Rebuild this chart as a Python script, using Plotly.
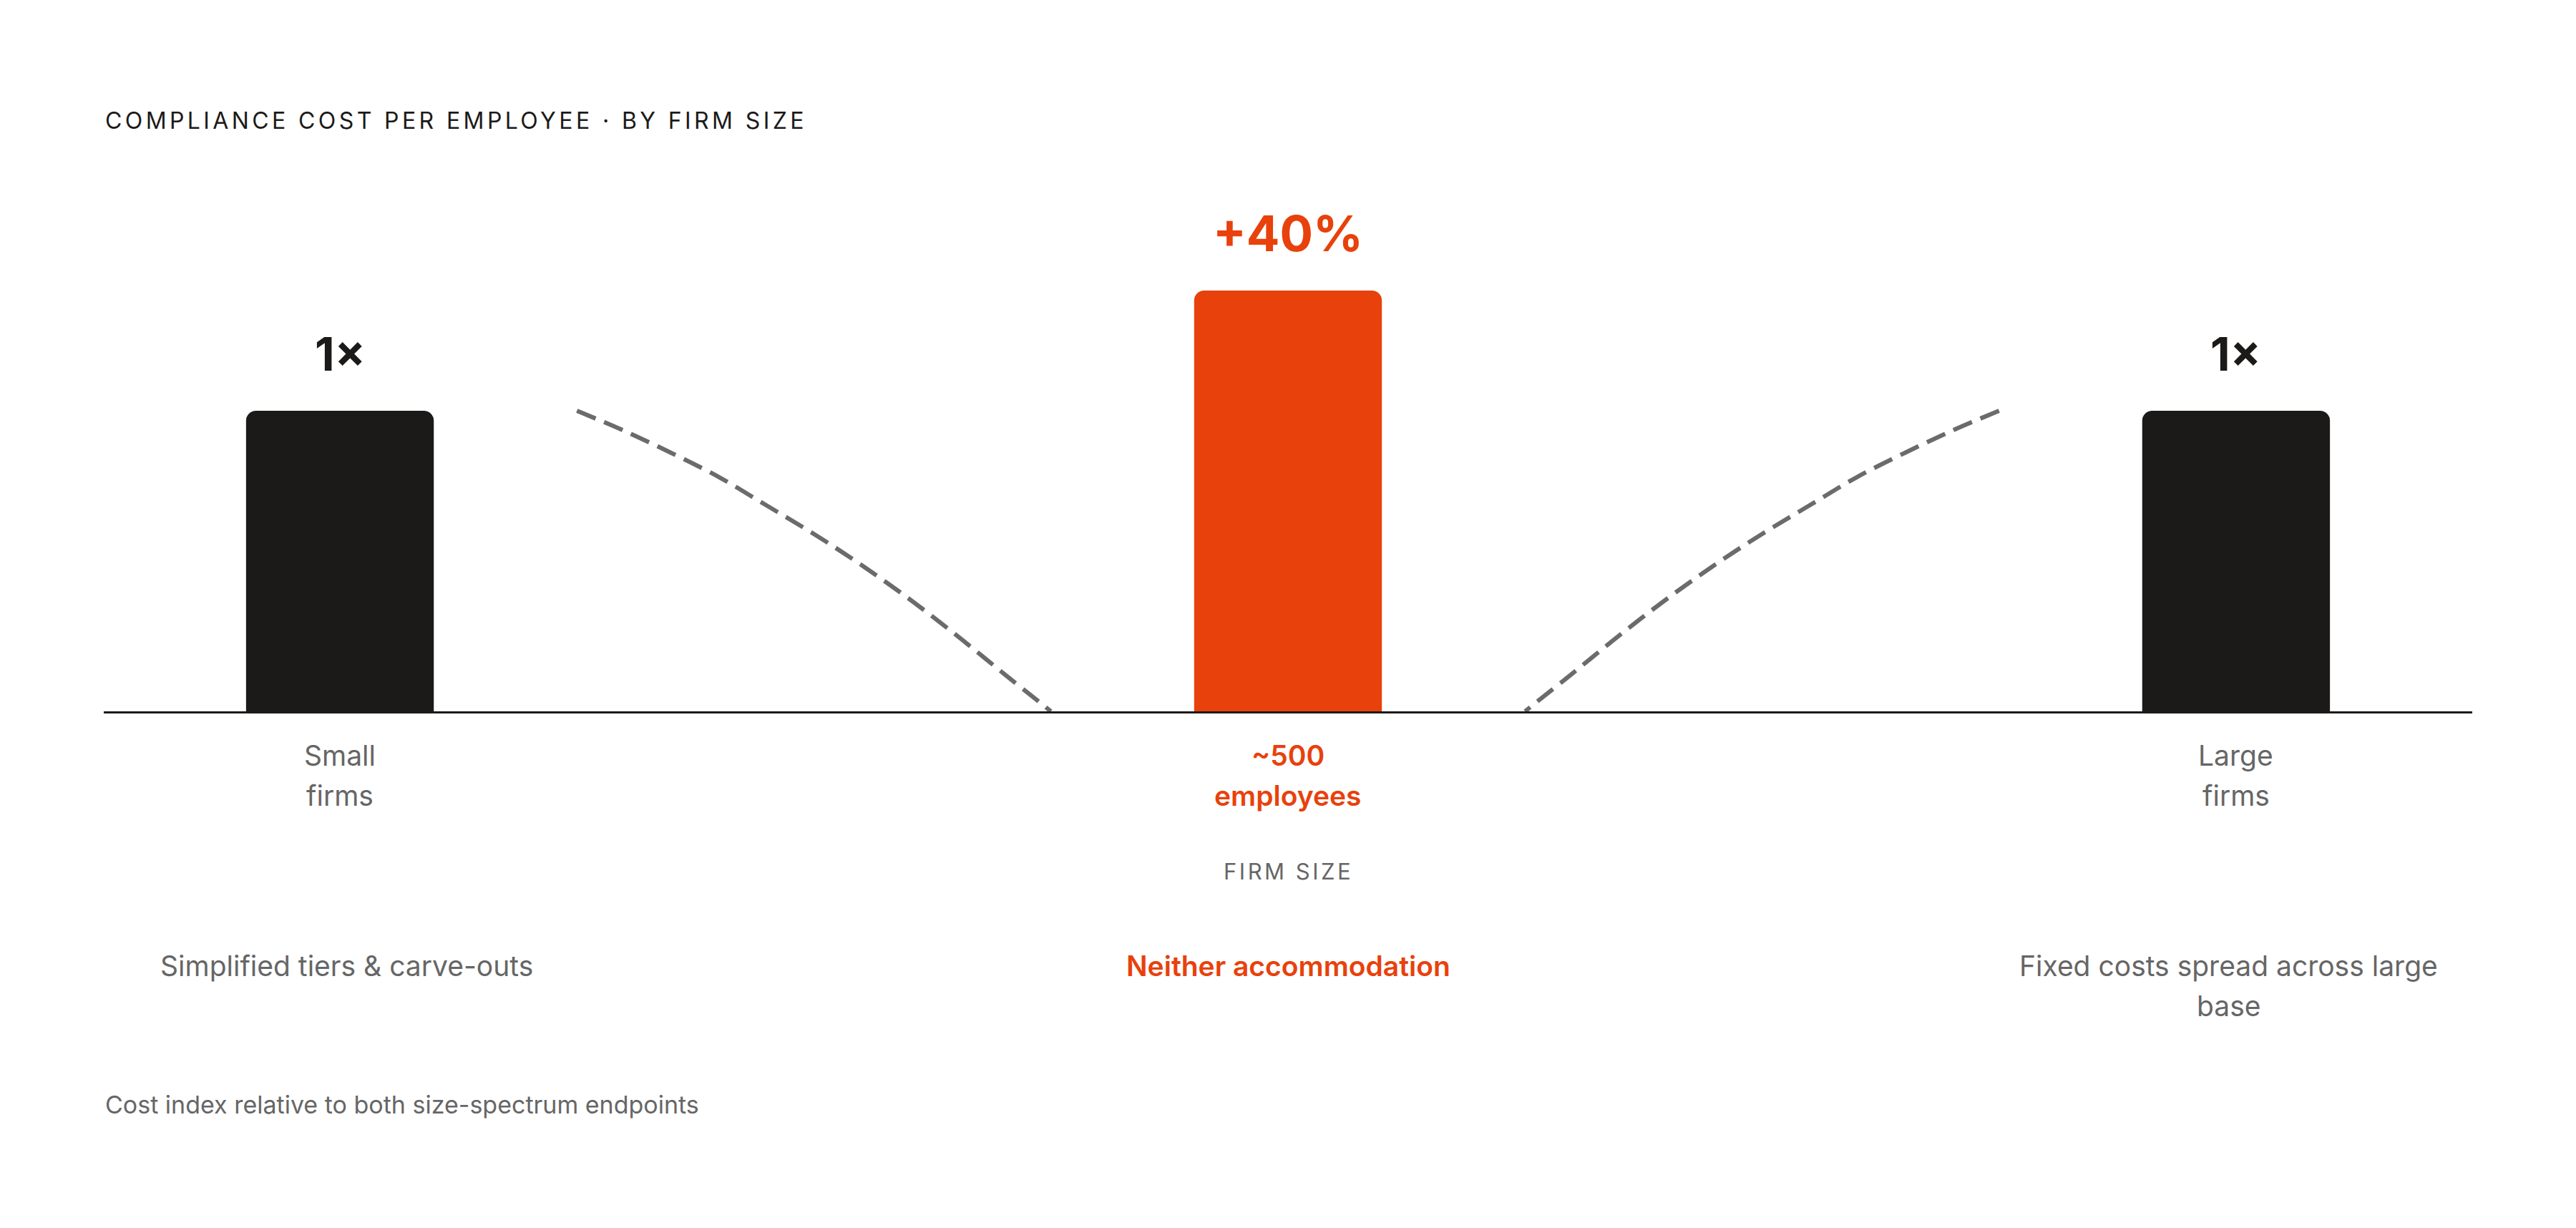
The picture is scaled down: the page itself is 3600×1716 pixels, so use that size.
import plotly.graph_objects as go

# ---------------- data ----------------
categories = ["Small firms", "~500 employees", "Large firms"]
positions = [0, 1, 2]
cost_index = [1.0, 1.4, 1.0]
value_labels = ["1×", "+40%", "1×"]
tick_labels = ["Small<br>firms", "~500<br>employees", "Large<br>firms"]
notes = ["Simplified tiers & carve-outs", "Neither accommodation",
         "Fixed costs spread across large<br>base"]
highlight = [False, True, False]

# dashed decorative cost curve, between bars
curve_x = [0.25, 0.30, 0.35, 0.40, 0.45, 0.50, 0.55, 0.60, 0.65, 0.70, 0.75]
curve_y = [1.0, 0.933, 0.859, 0.779, 0.685, 0.59, 0.487, 0.375, 0.254, 0.126, 0.0]

title_text = "COMPLIANCE COST PER EMPLOYEE · BY FIRM SIZE"
axis_title = "FIRM SIZE"
footer_text = "Cost index relative to both size-spectrum endpoints"

# ---------------- style ----------------
BLACK = "#1c1a18"
ORANGE = "#e8410c"
GRAY = "#666666"
CURVE = "#6b6b6b"
FONT = "Inter"

W, H = 3600, 1716
ML, MR, MT, MB = 145, 145, 300, 722
plot_h = H - MT - MB
px_per_unit = 420.0
y_max = plot_h / px_per_unit
x_pad = 0.2491
LINE_GAP = 56

fig = go.Figure()

fig.add_trace(go.Bar(
    x=positions, y=cost_index, width=0.198,
    marker=dict(color=[ORANGE if h else BLACK for h in highlight], line=dict(width=0)),
    hoverinfo="skip", showlegend=False,
))

for xs in (curve_x, [2 - v for v in curve_x]):
    fig.add_trace(go.Scatter(
        x=xs, y=curve_y, mode="lines",
        line=dict(color=CURVE, width=6, dash="28px,13px", shape="spline"),
        hoverinfo="skip", showlegend=False,
    ))

ann = []
# value labels above bars
for p, v, t, h in zip(positions, cost_index, value_labels, highlight):
    ann.append(dict(x=p, y=v, xref="x", yref="y", text=t, showarrow=False,
                    yanchor="middle", yshift=80,
                    font=dict(family=FONT, size=64 if not h else 69, weight=700,
                              color=ORANGE if h else BLACK)))
# category labels under axis (one annotation per line)
for p, t, h in zip(positions, tick_labels, highlight):
    for i, line in enumerate(t.split("<br>")):
        ann.append(dict(x=p, y=0, xref="x", yref="y", text=line, showarrow=False,
                        yanchor="middle", yshift=-61 - i * LINE_GAP,
                        font=dict(family=FONT, size=39, weight=600 if h else 400,
                                  color=ORANGE if h else GRAY)))
# axis title
ann.append(dict(x=1, y=0, xref="x", yref="y",
                text=f'<span style="letter-spacing:3.5px">{axis_title}</span>',
                showarrow=False, yanchor="middle", yshift=-223,
                font=dict(family=FONT, size=31, color=GRAY)))
# notes
note_shift = [9, 0, -10]
for p, t, h, s in zip(positions, notes, highlight, note_shift):
    for i, line in enumerate(t.split("<br>")):
        ann.append(dict(x=p, y=0, xref="x", yref="y", text=line, showarrow=False,
                        yanchor="middle", yshift=-355 - i * LINE_GAP, xshift=s,
                        font=dict(family=FONT, size=39, weight=600 if h else 400,
                                  color=ORANGE if h else GRAY)))
# title
ann.append(dict(x=0, y=1, xref="paper", yref="paper",
                text=f'<span style="letter-spacing:4.4px">{title_text}</span>',
                showarrow=False, xanchor="left", yanchor="middle", yshift=132,
                font=dict(family=FONT, size=32, color=BLACK)))
# footer
ann.append(dict(x=0, y=0, xref="paper", yref="y", text=footer_text, showarrow=False,
                xanchor="left", yanchor="middle", yshift=-549,
                font=dict(family=FONT, size=34, color=GRAY)))

fig.update_layout(
    width=W, height=H, autosize=False,
    margin=dict(l=ML, r=MR, t=MT, b=MB, pad=0),
    paper_bgcolor="white", plot_bgcolor="white",
    barcornerradius=14,
    annotations=ann,
    xaxis=dict(range=[-x_pad, 2 + x_pad], showgrid=False, zeroline=False,
               showticklabels=False, ticks="", showline=True, linecolor=BLACK,
               linewidth=3, fixedrange=True),
    yaxis=dict(range=[0, y_max], showgrid=False, zeroline=False, showticklabels=False,
               ticks="", showline=False, fixedrange=True),
    font=dict(family=FONT),
)

fig.write_html("out.html", config={"displayModeBar": False})
